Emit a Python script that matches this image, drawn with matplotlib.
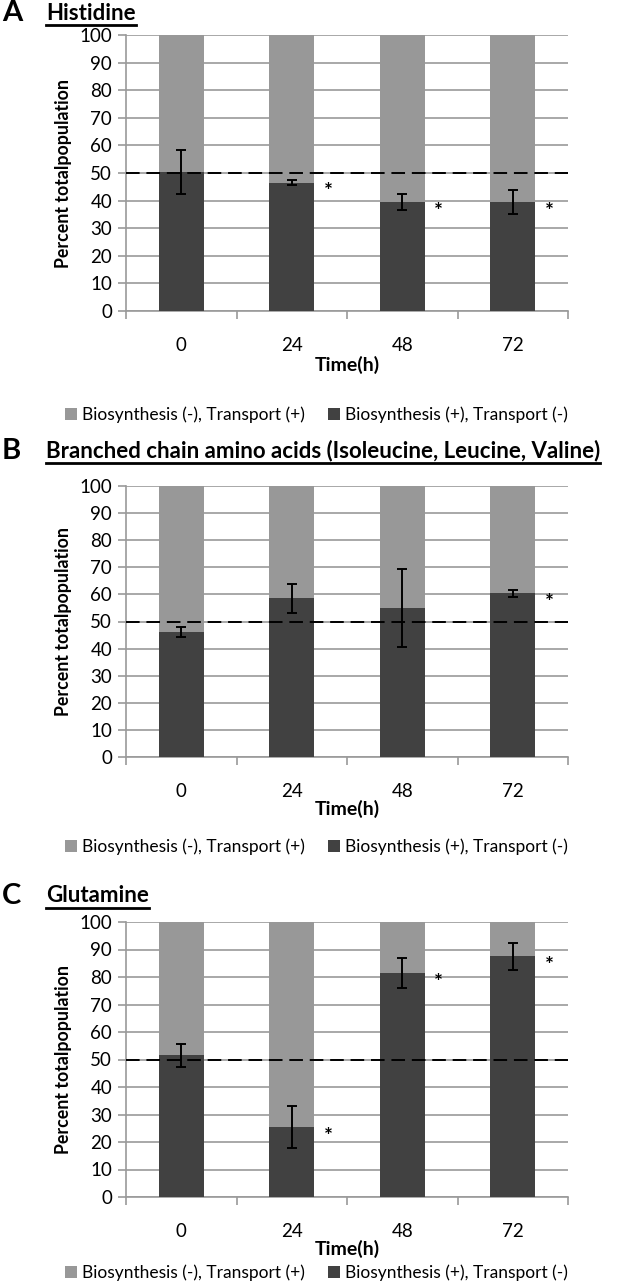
import numpy as np
import matplotlib
matplotlib.use("Agg")
import matplotlib.pyplot as plt
from matplotlib.patches import Patch
from matplotlib.lines import Line2D

plt.rcParams['font.family'] = ['Lato', 'DejaVu Sans']

# data
times = ['0', '24', '48', '72']
panel_letters = ['A', 'B', 'C']
panel_titles = ['Histidine',
                'Branched chain amino acids (Isoleucine, Leucine, Valine)',
                'Glutamine']
bio_plus = [[50.5, 46.5, 39.5, 39.5],
            [46.0, 58.5, 55.0, 60.5],
            [51.5, 25.5, 81.5, 87.5]]
bio_err = [[8.0, 1.0, 2.8, 4.3],
           [1.8, 5.5, 14.5, 1.3],
           [4.2, 7.5, 5.5, 5.0]]
signif = [[False, True, True, True],
          [False, False, False, True],
          [False, True, True, True]]
legend_labels = ['Biosynthesis (-), Transport (+)', 'Biosynthesis (+), Transport (-)']

light = '#989898'
dark = '#414141'
gridc = '#9a9a9a'

W, H = 633, 1285
fig = plt.figure(figsize=(W / 100, H / 100), dpi=100)

# pixel layout (top of axes, bottom of axes)
ax_rows = [(35, 311), (486, 757), (922, 1197)]
ax_left, ax_right = 126, 568
title_y = [13, 451, 896]
time_y = [365, 809, 1249]
legend_y = [415, 847, 1273]

def fx(px):
    return px / W

def fy(py):
    return 1 - py / H

for k in range(3):
    top, bot = ax_rows[k]
    ax = fig.add_axes([fx(ax_left), fy(bot), fx(ax_right - ax_left), (bot - top) / H])
    x = np.arange(len(times))
    vals = np.array(bio_plus[k])
    ax.bar(x, vals, width=0.41, color=dark, zorder=3)
    ax.bar(x, 100 - vals, width=0.41, bottom=vals, color=light, zorder=3)
    ax.errorbar(x, vals, yerr=bio_err[k], fmt='none', ecolor='black',
                elinewidth=1.4, capsize=3.8, capthick=1.4, zorder=5)
    ax.axhline(50, color='black', linestyle=(0, (7, 3.5)), linewidth=1.4, zorder=6)
    for i, s in enumerate(signif[k]):
        if s:
            ax.text(i + 0.33, vals[i] - 3.5, '*', ha='center', va='center',
                    fontsize=15, fontweight='bold', zorder=6)

    ax.set_xlim(-0.5, len(times) - 0.5)
    ax.set_ylim(0, 100)
    ax.set_yticks(np.arange(0, 101, 10))
    ax.set_xticks(x)
    ax.set_xticklabels(times)
    ax.set_xticks(np.arange(-0.5, len(times)), minor=True)
    ax.tick_params(axis='x', which='major', length=0, pad=19, labelsize=13.5)
    ax.tick_params(axis='x', which='minor', length=6, width=1.2, color=gridc, direction='out')
    ax.tick_params(axis='y', length=6, width=1.2, color=gridc, pad=4, labelsize=13.5)
    ax.yaxis.grid(True, color=gridc, linewidth=1.2, zorder=0)
    ax.set_axisbelow(True)
    for sp in ['top', 'right']:
        ax.spines[sp].set_visible(False)
    for sp in ['left', 'bottom']:
        ax.spines[sp].set_color(gridc)
        ax.spines[sp].set_linewidth(1.2)
    ax.set_ylabel('Percent totalpopulation', fontsize=12.8, fontweight='bold', labelpad=5)

    fig.text(fx((ax_left + ax_right) / 2), fy(time_y[k]), 'Time(h)', ha='center', va='center',
             fontsize=14, fontweight='bold')

    fig.text(fx(2), fy(title_y[k]), panel_letters[k], ha='left', va='center',
             fontsize=21, fontweight='bold')
    t = fig.text(fx(46), fy(title_y[k]), panel_titles[k], ha='left', va='center',
                 fontsize=16, fontweight='bold')
    fig.canvas.draw()
    bb = t.get_window_extent()
    fig.add_artist(Line2D([bb.x0 / W, bb.x1 / W], [(bb.y0 - 1.5) / H] * 2,
                          color='black', linewidth=2.0, transform=fig.transFigure))

    handles = [Patch(facecolor=light), Patch(facecolor=dark)]
    fig.legend(handles, legend_labels, loc='center', bbox_to_anchor=(0.5, fy(legend_y[k])),
               ncol=2, frameon=False, fontsize=12.5, handlelength=0.7, handleheight=0.7,
               handletextpad=0.3, columnspacing=1.3)

fig.savefig('out.png', dpi=100)
